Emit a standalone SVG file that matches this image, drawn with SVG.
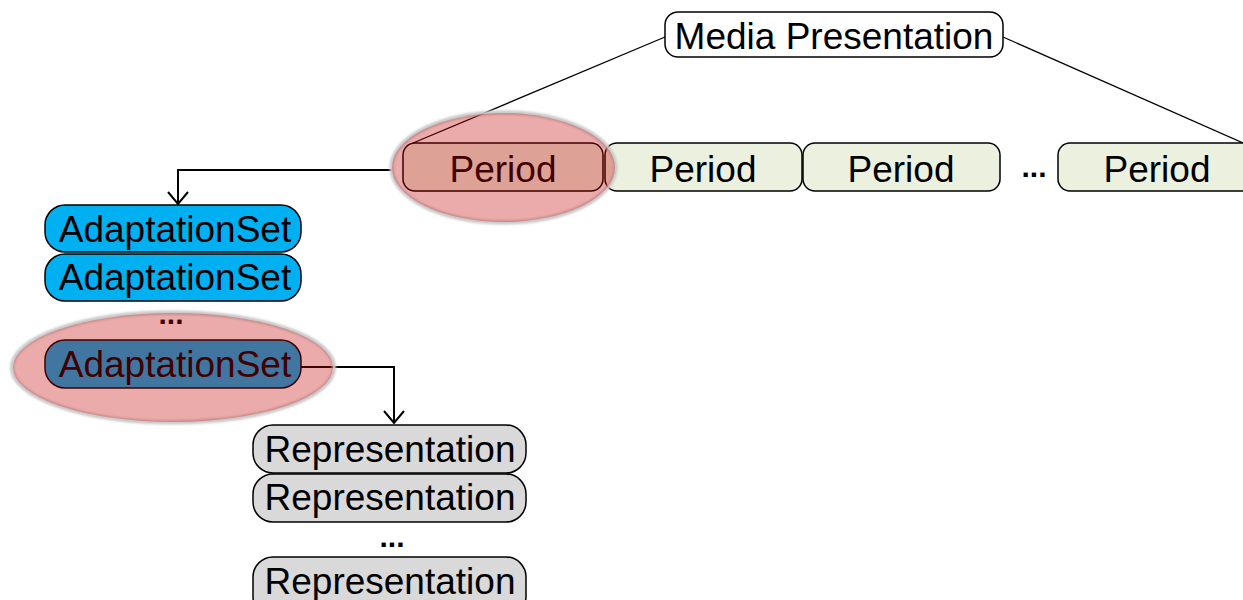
<svg xmlns="http://www.w3.org/2000/svg" width="1243" height="600" viewBox="0 0 1243 600">
  <style>
    .box { stroke: #000; stroke-width: 1.5; }
    .mp { fill: #FFFFFF; }
    .period { fill: #EBF1DE; }
    .aset { fill: #00B0F0; }
    .rep { fill: #D9D9D9; }
    .lbl { font-family: "Liberation Sans", Arial, sans-serif; font-size: 37px; fill: #000; text-anchor: middle; }
    .dots { font-family: "Liberation Sans", Arial, sans-serif; font-size: 30px; font-weight: bold; fill: #000; text-anchor: middle; }
    .wire { fill: none; stroke: #000; stroke-width: 1.3; }
    .flow { fill: none; stroke: #000; stroke-width: 2; }
    .halo { fill: none; stroke: #C8C8C8; stroke-width: 4; filter: url(#soft); }
    .focus { fill: #C40000; fill-opacity: 0.33; }
  </style>
  <defs>
    <filter id="soft" x="-10%" y="-10%" width="120%" height="120%">
      <feGaussianBlur stdDeviation="1.2"/>
    </filter>
    <marker id="vhead" viewBox="0 0 20 16" refX="10" refY="15" markerWidth="20" markerHeight="16" markerUnits="userSpaceOnUse" orient="0" overflow="visible">
      <path d="M0,3 L10,15 L20,3" fill="none" stroke="#000" stroke-width="2"/>
    </marker>
  </defs>

  <!-- connectors -->
  <g id="connectors">
    <line class="wire" x1="665" y1="37" x2="413" y2="143"/>
    <line class="wire" x1="1003" y1="37" x2="1243" y2="143"/>
    <path class="flow" d="M392,170 H178 V204" marker-end="url(#vhead)"/>
    <path class="flow" d="M301,367 H394 V423" marker-end="url(#vhead)"/>
  </g>

  <g id="media-presentation">
    <rect class="box mp" x="665" y="12" width="338" height="45" rx="13"/>
    <text class="lbl" x="834" y="49">Media Presentation</text>
  </g>

  <g id="period-1">
    <rect class="box period" x="403" y="143" width="200" height="48" rx="12"/>
    <text class="lbl" x="503" y="182">Period</text>
  </g>
  <g id="period-2">
    <rect class="box period" x="605" y="143" width="197" height="48" rx="12"/>
    <text class="lbl" x="703" y="182">Period</text>
  </g>
  <g id="period-3">
    <rect class="box period" x="803" y="143" width="197" height="48" rx="12"/>
    <text class="lbl" x="901" y="182">Period</text>
  </g>
  <text class="dots" x="1034" y="177">...</text>
  <g id="period-n">
    <rect class="box period" x="1058" y="143" width="210" height="48" rx="12"/>
    <text class="lbl" x="1157" y="182">Period</text>
  </g>

  <g id="adaptation-set-1">
    <rect class="box aset" x="45" y="205" width="256" height="47" rx="20"/>
    <text class="lbl" x="175" y="242">AdaptationSet</text>
  </g>
  <g id="adaptation-set-2">
    <rect class="box aset" x="45" y="254" width="256" height="47" rx="20"/>
    <text class="lbl" x="175" y="290">AdaptationSet</text>
  </g>
  <text class="dots" x="171" y="324">...</text>
  <g id="adaptation-set-n">
    <rect class="box aset" x="45" y="340" width="256" height="48" rx="20"/>
    <text class="lbl" x="175" y="377">AdaptationSet</text>
  </g>

  <g id="representation-1">
    <rect class="box rep" x="253" y="425" width="273" height="48" rx="20"/>
    <text class="lbl" x="390" y="462">Representation</text>
  </g>
  <g id="representation-2">
    <rect class="box rep" x="253" y="474" width="273" height="48" rx="20"/>
    <text class="lbl" x="390" y="510">Representation</text>
  </g>
  <text class="dots" x="392" y="547">...</text>
  <g id="representation-n">
    <rect class="box rep" x="253" y="557" width="273" height="60" rx="20"/>
    <text class="lbl" x="390" y="594">Representation</text>
  </g>

  <!-- highlight rings over the selected Period and AdaptationSet -->
  <g id="highlights">
    <ellipse class="halo" cx="503.5" cy="167.5" rx="112" ry="55"/>
    <ellipse class="focus" cx="503.5" cy="167.5" rx="111.5" ry="54.5"/>
    <ellipse class="halo" cx="173" cy="367.5" rx="161" ry="55"/>
    <ellipse class="focus" cx="173" cy="367.5" rx="160" ry="54.5"/>
  </g>
</svg>
